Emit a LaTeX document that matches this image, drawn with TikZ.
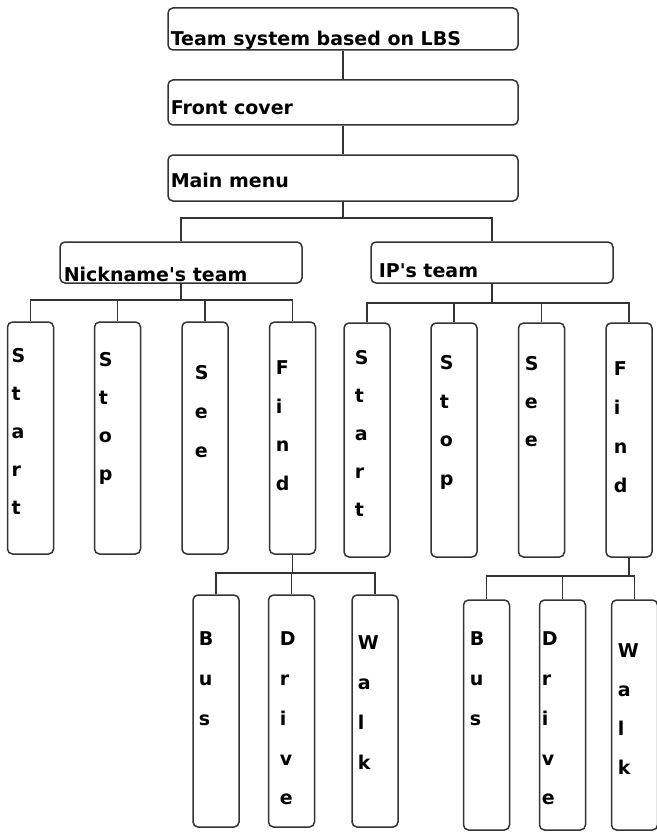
\documentclass[tikz,border=0pt]{standalone}
\usepackage{fontspec}
\setmainfont{DejaVu Sans}
\usepackage{tikz}

\begin{document}
\begin{tikzpicture}[line width=1.5pt,
    link/.style={draw=black!80},
    menubox/.style={draw=black!80, rounded corners=5pt, inner sep=0pt, minimum width=350pt},
    teambox/.style={draw=black!80, rounded corners=5pt, inner sep=0pt, minimum width=242pt, minimum height=41pt},
    itembox/.style={draw=black!80, rounded corners=5pt, inner sep=0pt, minimum width=46pt, minimum height=#1},
    itembox/.default=232pt,
    boxtext/.style={anchor=base west, inner sep=0pt, font=\fontsize{19}{23}\selectfont\bfseries},
    letters/.style={anchor=north west, inner sep=0pt, align=left, font=\fontsize{19}{#1}\selectfont\bfseries},
    letters/.default=37.8pt]
    \useasboundingbox (0pt, 0pt) rectangle (656pt, -832pt);

    \node at (343pt, -29pt) (title) [menubox, minimum height=42pt] {};
    \node at (343pt, -102.5pt) (front) [menubox, minimum height=45pt] {};
    \node at (343pt, -178pt) (menu) [menubox, minimum height=46pt] {};

    \node at (181pt, -262.5pt) (nick) [teambox] {};
    \node at (492pt, -262.5pt) (ip) [teambox] {};

    % Nickname's team
    \node at (30.5pt, -438pt) (startA) [itembox] {};
    \node at (117.5pt, -438pt) (stopA) [itembox] {};
    \node at (205pt, -438pt) (seeA) [itembox] {};
    \node at (292.5pt, -438pt) (findA) [itembox] {};

    % IP's team
    \node at (367pt, -440pt) (startB) [itembox=234pt] {};
    \node at (454pt, -440pt) (stopB) [itembox=234pt] {};
    \node at (541.5pt, -440pt) (seeB) [itembox=234pt] {};
    \node at (629pt, -440pt) (findB) [itembox=234pt] {};

    \node at (216pt, -711pt) (busA) [itembox] {};
    \node at (291.5pt, -711pt) (driveA) [itembox] {};
    \node at (375pt, -711pt) (walkA) [itembox] {};

    \node at (486.5pt, -715pt) (busB) [itembox=230pt] {};
    \node at (562.5pt, -715pt) (driveB) [itembox=230pt] {};
    \node at (634.5pt, -715pt) (walkB) [itembox=230pt] {};

    % texts
    \node at (170pt, -46pt) (titletext) [boxtext] {Team system based on LBS};
    \node at (170pt, -114pt) (fronttext) [boxtext] {Front cover};
    \node at (170pt, -187pt) (menutext) [boxtext] {Main menu};
    \node at (63pt, -281pt) (nicktext) [boxtext] {Nickname\textquotesingle s team};
    \node at (378pt, -277pt) (iptext) [boxtext] {IP\textquotesingle s team};

    \node at (11pt, -348pt) (startAtext) [letters] {S\\t\\a\\r\\t};
    \node at (98pt, -352pt) (stopAtext) [letters] {S\\t\\o\\p};
    \node at (194pt, -365pt) (seeAtext) [letters=39pt] {S\\e\\e};
    \node at (275pt, -360pt) (findAtext) [letters=38.5pt] {F\\i\\n\\d};

    \node at (354pt, -350pt) (startBtext) [letters] {S\\t\\a\\r\\t};
    \node at (439pt, -355pt) (stopBtext) [letters=38.5pt] {S\\t\\o\\p};
    \node at (524pt, -356pt) (seeBtext) [letters] {S\\e\\e};
    \node at (613pt, -361pt) (findBtext) [letters=39pt] {F\\i\\n\\d};

    \node at (198pt, -631pt) (busAtext) [letters=40pt] {B\\u\\s};
    \node at (279pt, -631pt) (driveAtext) [letters=39.8pt] {D\\r\\i\\v\\e};
    \node at (357pt, -635pt) (walkAtext) [letters=40pt] {W\\a\\l\\k};

    \node at (469pt, -631pt) (busBtext) [letters=40pt] {B\\u\\s};
    \node at (541pt, -631pt) (driveBtext) [letters=39.8pt] {D\\r\\i\\v\\e};
    \node at (617pt, -643pt) (walkBtext) [letters=39pt] {W\\a\\l\\k};

    % connectors
    \coordinate (menubar) at (343pt, -218pt);
    \coordinate (nickbar) at (181pt, -300pt);
    \coordinate (ipbar) at (492pt, -303pt);
    \coordinate (findAbar) at (292.5pt, -573pt);
    \coordinate (findBbar) at (629pt, -576pt);

    \draw[link] (title) -- (front);
    \draw[link] (front) -- (menu);
    \draw[link] (menu) -- (menubar);
    \draw[link] (nick.north) |- (menubar) -| (ip.north);

    \draw[link] (nick) -- (nickbar);
    \draw[link] (startA.north) |- (nickbar) -| (findA.north);
    \draw[link] (stopA.north) -- (stopA.north |- nickbar);
    \draw[link] (seeA.north) -- (seeA.north |- nickbar);

    \draw[link] (ip) -- (ipbar);
    \draw[link] (startB.north) |- (ipbar) -| (findB.north);
    \draw[link] (stopB.north) -- (stopB.north |- ipbar);
    \draw[link] (seeB.north) -- (seeB.north |- ipbar);

    \draw[link] (findA) -- (findAbar);
    \draw[link] (busA.north) |- (findAbar) -| (walkA.north);
    \draw[link] (driveA.north) -- (driveA.north |- findAbar);

    \draw[link] (findB) -- (findBbar);
    \draw[link] (busB.north) |- (findBbar) -| (walkB.north);
    \draw[link] (driveB.north) -- (driveB.north |- findBbar);

\end{tikzpicture}
\end{document}
